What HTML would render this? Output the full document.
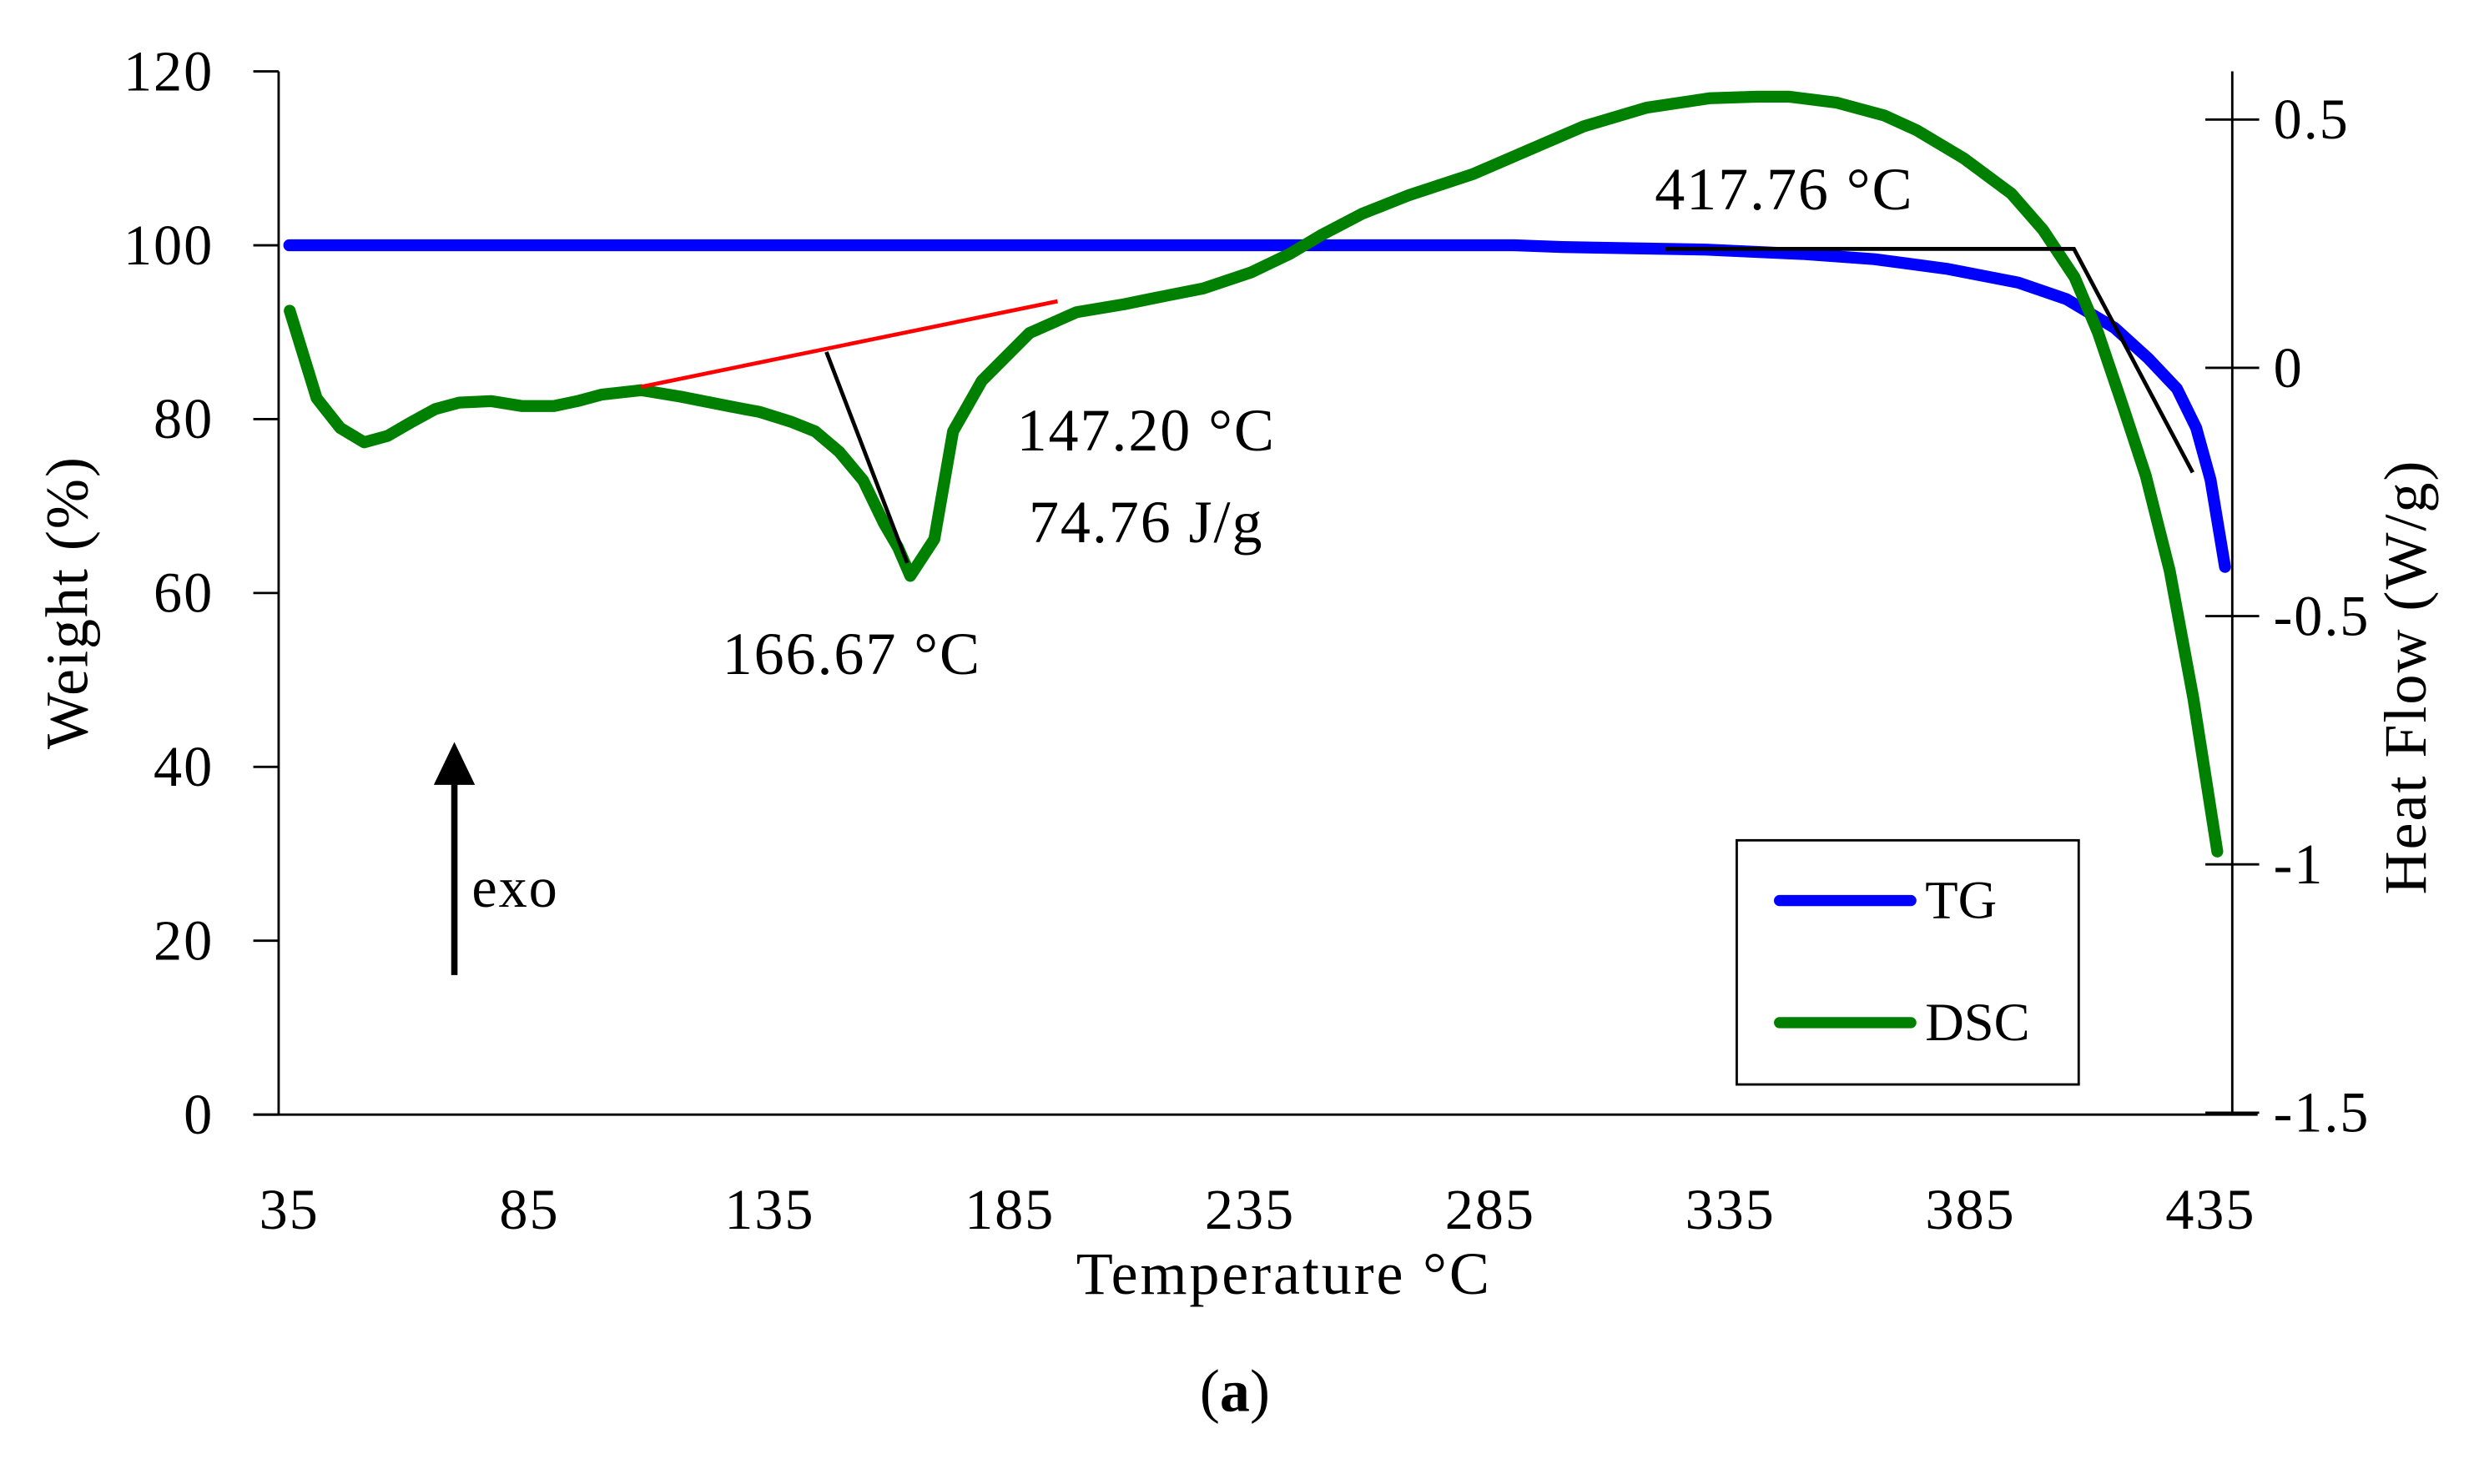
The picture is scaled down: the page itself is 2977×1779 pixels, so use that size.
<!DOCTYPE html>
<html><head><meta charset="utf-8"><style>
html,body{margin:0;padding:0;background:#fff;}
svg{display:block;}
text{font-family:"Liberation Serif",serif;fill:#000;}
</style></head><body>
<svg id="chart" width="2977" height="1779" viewBox="0 0 1569 936" preserveAspectRatio="none" xmlns="http://www.w3.org/2000/svg">
<g id="axes"></g>
<g id="plot"></g>
<g>
<line x1="405" y1="244" x2="668" y2="190" stroke="#f00" stroke-width="2.5"/>
<line x1="522" y1="222" x2="573" y2="355" stroke="#000" stroke-width="2.5"/>
<polyline points="1052,157 1310,157 1385,298" fill="none" stroke="#000" stroke-width="2.5"/>
<text x="724" y="284" font-size="38" text-anchor="middle" letter-spacing="1">147.20 °C</text>
<text x="724" y="342" font-size="38" text-anchor="middle" letter-spacing="1">74.76 J/g</text>
<text x="538" y="425" font-size="38" text-anchor="middle" letter-spacing="1">166.67 °C</text>
<text x="1127" y="132" font-size="38" text-anchor="middle" letter-spacing="1">417.76 °C</text>
<line x1="287" y1="615" x2="287" y2="490" stroke="#000" stroke-width="4"/>
<polygon points="274,495 300,495 287,468" fill="#000"/>
<text x="298" y="572" font-size="36" letter-spacing="1">exo</text>
</g>
<g>
<rect x="1097" y="530" width="216" height="154" fill="#fff" stroke="#000" stroke-width="1.5"/>
<line x1="1124" y1="568" x2="1207" y2="568" stroke="#00f" stroke-width="7" stroke-linecap="round"/>
<text x="1216" y="579" font-size="34">TG</text>
<line x1="1124" y1="645" x2="1207" y2="645" stroke="#008000" stroke-width="7" stroke-linecap="round"/>
<text x="1216" y="656" font-size="34">DSC</text>
</g>
<text x="811" y="816" font-size="38" text-anchor="middle" letter-spacing="1.5">Temperature °C</text>
<text transform="translate(55,380) rotate(-90)" font-size="38" text-anchor="middle" letter-spacing="1">Weight (%)</text>
<text transform="translate(1532,427) rotate(-90)" font-size="38" text-anchor="middle" letter-spacing="1">Heat Flow (W/g)</text>
<text x="780" y="890" font-size="38" text-anchor="middle">(<tspan font-weight="bold">a</tspan>)</text>
</svg>
<script>
const xTicks=[35,85,135,185,235,285,335,385,435];
const yTicks=[0,20,40,60,80,100,120];
const y2Ticks=[0.5,0,-0.5,-1,-1.5];
const y2Labels=["0.5","0","-0.5","-1","-1.5"];
const tgTemp=[35,290,300,330,350,365,380,395,405,415,422,428,432,435,438];
const tgWeight=[100,100,99.8,99.5,99,98.4,97.3,95.7,93.8,90.5,87,83.5,79,73,63];
const dscTemp=[35.1,40.7,45.6,50.6,55.5,60.5,65.4,70.4,77,83.5,90.1,95,100,108.3,116.5,126.4,133,139.6,144.5,149.5,154.5,158.8,161.7,164.3,169.3,173.2,179.2,189.1,198.9,208.8,215.4,225.3,235.2,243.4,250,258.3,268.2,281.4,292.9,304.4,317.6,330.8,340.7,347.3,357.2,367.1,373.7,383.6,393.5,400.1,406.7,411.6,416.6,421.5,426.5,431.4,436.4];
const dscHeat=[0.115,-0.061,-0.121,-0.150,-0.137,-0.109,-0.083,-0.070,-0.067,-0.077,-0.077,-0.067,-0.054,-0.045,-0.058,-0.077,-0.089,-0.109,-0.128,-0.169,-0.227,-0.313,-0.361,-0.419,-0.345,-0.128,-0.026,0.070,0.112,0.128,0.141,0.160,0.192,0.230,0.268,0.310,0.348,0.390,0.438,0.486,0.524,0.543,0.546,0.546,0.534,0.508,0.479,0.422,0.351,0.278,0.182,0.070,-0.073,-0.217,-0.409,-0.665,-0.974];
const NS="http://www.w3.org/2000/svg";
const X=t=>182.7+(t-35)*3.034;
const Y=w=>703-w*5.483;
const Y2=h=>232-h*313.2;
function mk(tag,attrs,parent,txt){const e=document.createElementNS(NS,tag);for(const k in attrs)e.setAttribute(k,attrs[k]);if(txt!==undefined)e.textContent=txt;parent.appendChild(e);return e;}
const axes=document.getElementById('axes'),plot=document.getElementById('plot');
let e;
e=mk('line',{x1:176,y1:45,x2:176,y2:703,stroke:'#000','stroke-width':1.5},axes);


e=mk('line',{x1:1410,y1:45,x2:1410,y2:703,stroke:'#000','stroke-width':1.5},axes);


e=mk('line',{x1:160,y1:703,x2:1426,y2:703,stroke:'#000','stroke-width':1.5},axes);


yTicks.forEach(v=>{
 e=mk('line',{x1:160,y1:Y(v),x2:176,y2:Y(v),stroke:'#000','stroke-width':1.5},axes);
 
 
 e=mk('text',{x:135,y:Y(v)+12,'font-size':36,'text-anchor':'end','letter-spacing':1},axes,String(v));
 
 
});
y2Ticks.forEach((v,i)=>{
 e=mk('line',{x1:1393,y1:Y2(v),x2:1427,y2:Y2(v),stroke:'#000','stroke-width':1.5},axes);
 
 
 e=mk('text',{x:1436,y:Y2(v)+12,'font-size':36,'letter-spacing':1},axes,y2Labels[i]);
 
 
});
xTicks.forEach(v=>{
 e=mk('text',{x:X(v),y:775,'font-size':36,'text-anchor':'middle','letter-spacing':1},axes,String(v));
 
 
});
e=mk('polyline',{points:tgTemp.map((t,i)=>X(t)+','+Y(tgWeight[i])).join(' '),fill:'none',stroke:'#00f','stroke-width':7.5,'stroke-linecap':'round','stroke-linejoin':'round'},plot);


e=mk('polyline',{points:dscTemp.map((t,i)=>X(t)+','+Y2(dscHeat[i])).join(' '),fill:'none',stroke:'#008000','stroke-width':7.5,'stroke-linecap':'round','stroke-linejoin':'round'},plot);


</script>
</body></html>
